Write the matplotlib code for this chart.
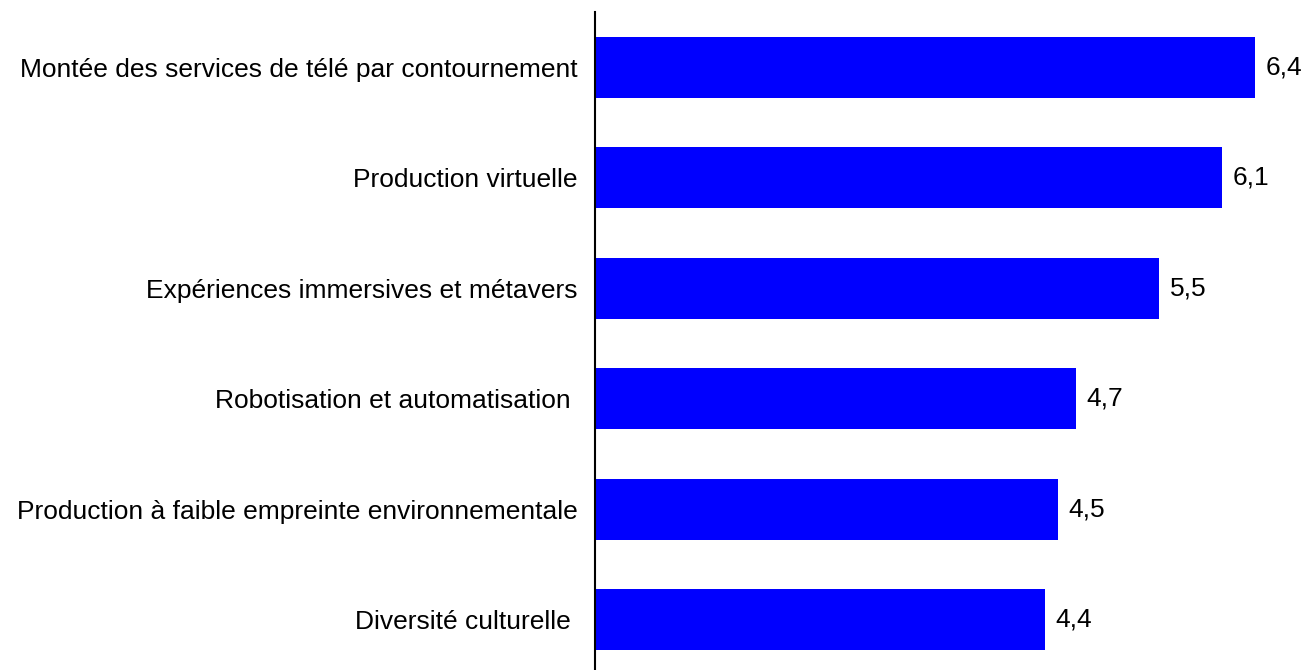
import matplotlib.pyplot as plt

plt.rcParams['font.family'] = ['Liberation Sans', 'DejaVu Sans']

categories = [
    "Montée des services de télé par contournement",
    "Production virtuelle",
    "Expériences immersives et métavers",
    "Robotisation et automatisation ",
    "Production à faible empreinte environnementale",
    "Diversité culturelle ",
]
# bar lengths (labels show them rounded to one decimal)
values = [6.41, 6.09, 5.48, 4.67, 4.50, 4.37]


def plot_chart():
    fig = plt.figure(figsize=(13.04, 6.7), dpi=100)
    # spine at x=595, longest bar ends at x=1255
    ax = fig.add_axes([595 / 1304, -5 / 670, 660 / 1304, 663 / 670])

    pos = list(range(len(categories)))
    ax.barh(pos, values, height=0.55, color='#0000FF')
    ax.set_xlim(0, max(values))
    ax.set_ylim(len(categories) - 0.5, -0.5)

    for p, v in zip(pos, values):
        ax.text(v + 0.1, p, f"{v:.1f}".replace(".", ","), va='center', ha='left',
                fontsize=19, clip_on=False)

    ax.set_yticks(pos)
    ax.set_yticklabels(categories, fontsize=19)
    ax.tick_params(axis='y', length=0, pad=12.5)
    ax.set_xticks([])
    for side in ['top', 'right', 'bottom']:
        ax.spines[side].set_visible(False)
    ax.spines['left'].set_linewidth(1.5)
    ax.spines['left'].set_color('black')

    fig.savefig("out.png", dpi=100)
    plt.close(fig)


if __name__ == "__main__":
    plot_chart()
